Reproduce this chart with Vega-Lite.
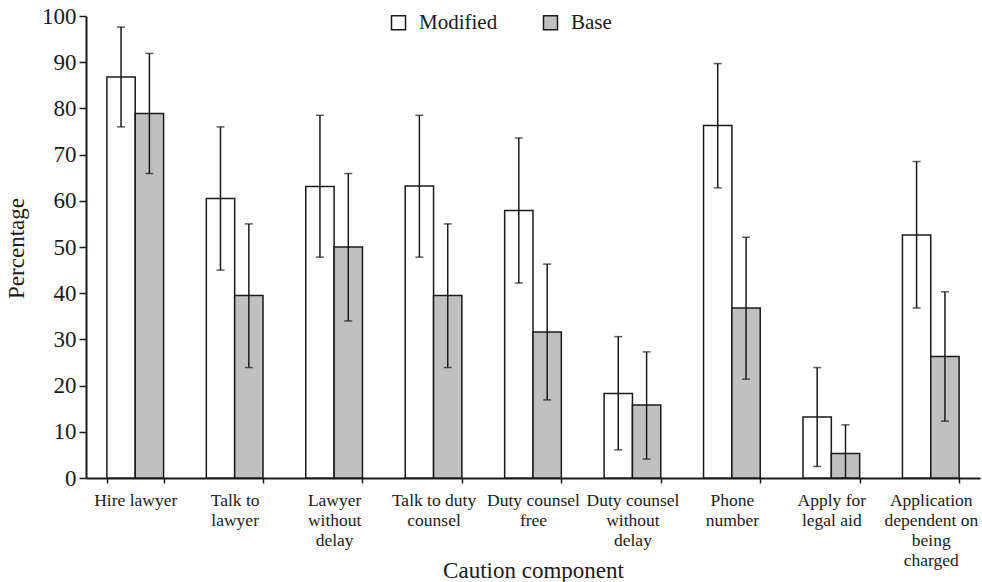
{
  "$schema": "https://vega.github.io/schema/vega-lite/v6.json",
  "width": 894,
  "height": 462,
  "autosize": {"type": "none"},
  "padding": {"left": 86, "top": 16, "right": 2, "bottom": 104},
  "background": "white",
  "config": {
    "view": {"stroke": null},
    "font": "Liberation Serif",
    "axis": {"domainColor": "#1a1a1a", "tickColor": "#1a1a1a", "labelColor": "#1a1a1a", "titleColor": "#1a1a1a", "grid": false, "labelFont": "Liberation Serif", "titleFont": "Liberation Serif", "titleFontWeight": "normal"},
    "legend": {"labelFont": "Liberation Serif", "labelColor": "#1a1a1a"}
  },
  "data": {
    "values": [
      {"component": "Hire lawyer", "series": "Modified", "value": 86.8, "lo": 76.0, "hi": 97.6},
      {"component": "Hire lawyer", "series": "Base", "value": 78.9, "lo": 65.9, "hi": 91.9},
      {"component": "Talk to lawyer", "series": "Modified", "value": 60.5, "lo": 45.0, "hi": 76.0},
      {"component": "Talk to lawyer", "series": "Base", "value": 39.5, "lo": 23.9, "hi": 55.0},
      {"component": "Lawyer without delay", "series": "Modified", "value": 63.1, "lo": 47.8, "hi": 78.5},
      {"component": "Lawyer without delay", "series": "Base", "value": 50.0, "lo": 34.0, "hi": 65.9},
      {"component": "Talk to duty counsel", "series": "Modified", "value": 63.2, "lo": 47.8, "hi": 78.5},
      {"component": "Talk to duty counsel", "series": "Base", "value": 39.5, "lo": 23.9, "hi": 55.0},
      {"component": "Duty counsel free", "series": "Modified", "value": 57.9, "lo": 42.2, "hi": 73.6},
      {"component": "Duty counsel free", "series": "Base", "value": 31.6, "lo": 16.9, "hi": 46.3},
      {"component": "Duty counsel without delay", "series": "Modified", "value": 18.3, "lo": 6.1, "hi": 30.6},
      {"component": "Duty counsel without delay", "series": "Base", "value": 15.8, "lo": 4.1, "hi": 27.3},
      {"component": "Phone number", "series": "Modified", "value": 76.3, "lo": 62.8, "hi": 89.7},
      {"component": "Phone number", "series": "Base", "value": 36.8, "lo": 21.4, "hi": 52.1},
      {"component": "Apply for legal aid", "series": "Modified", "value": 13.2, "lo": 2.5, "hi": 23.9},
      {"component": "Apply for legal aid", "series": "Base", "value": 5.3, "lo": 0, "hi": 11.5},
      {"component": "Application dependent on being charged", "series": "Modified", "value": 52.6, "lo": 36.8, "hi": 68.5},
      {"component": "Application dependent on being charged", "series": "Base", "value": 26.3, "lo": 12.3, "hi": 40.3}
    ]
  },
  "encoding": {
    "x": {
      "field": "component",
      "type": "nominal",
      "sort": null,
      "scale": {"paddingInner": 0.43, "paddingOuter": 0.21},
      "axis": {
        "title": "Caution component",
        "titleFontSize": 23,
        "titleY": 92,
        "titleBaseline": "middle",
        "labelAngle": 0,
        "labelFontSize": 17.5,
        "labelLineHeight": 20,
        "labelPadding": 8,
        "labelBaseline": "top",
        "tickBand": "extent",
        "tickSize": 5,
        "tickWidth": 1.5,
        "domainWidth": 2,
        "labelExpr": "{'Hire lawyer': 'Hire lawyer', 'Talk to lawyer': ['Talk to', 'lawyer'], 'Lawyer without delay': ['Lawyer', 'without', 'delay'], 'Talk to duty counsel': ['Talk to duty', 'counsel'], 'Duty counsel free': ['Duty counsel', 'free'], 'Duty counsel without delay': ['Duty counsel', 'without', 'delay'], 'Phone number': ['Phone', 'number'], 'Apply for legal aid': ['Apply for', 'legal aid'], 'Application dependent on being charged': ['Application', 'dependent on', 'being', 'charged']}[datum.label]"
      }
    },
    "xOffset": {"field": "series", "type": "nominal", "sort": ["Modified", "Base"], "scale": {"paddingInner": 0, "paddingOuter": 0}}
  },
  "layer": [
    {
      "mark": {"type": "bar", "stroke": "#1a1a1a", "strokeWidth": 1.5},
      "encoding": {
        "y": {
          "field": "value",
          "type": "quantitative",
          "scale": {"domain": [0, 100], "nice": false},
          "axis": {
            "title": "Percentage",
            "titleFontSize": 23,
            "titleX": -70,
            "titleY": 232,
            "titleAngle": -90,
            "titleBaseline": "middle",
            "titleAlign": "center",
            "values": [0, 10, 20, 30, 40, 50, 60, 70, 80, 90, 100],
            "labelFontSize": 23,
            "labelPadding": 3,
            "tickSize": 7,
            "tickWidth": 1.5,
            "domainWidth": 2
          }
        },
        "fill": {
          "field": "series",
          "type": "nominal",
          "sort": ["Modified", "Base"],
          "scale": {"domain": ["Modified", "Base"], "range": ["#ffffff", "#c0c0c0"]},
          "legend": {
            "title": null,
            "orient": "none",
            "direction": "horizontal",
            "legendX": 302,
            "legendY": -4,
            "symbolType": "square",
            "symbolSize": 196,
            "symbolStrokeColor": "#1a1a1a",
            "symbolStrokeWidth": 1.5,
            "labelFontSize": 21,
            "labelOffset": 10,
            "columnPadding": 42
          }
        }
      }
    },
    {
      "mark": {"type": "rule", "color": "#1a1a1a", "strokeWidth": 1.5},
      "encoding": {
        "y": {"field": "lo", "type": "quantitative"},
        "y2": {"field": "hi"}
      }
    },
    {
      "mark": {"type": "tick", "color": "#1a1a1a", "size": 8, "thickness": 1.5, "orient": "horizontal"},
      "encoding": {"y": {"field": "lo", "type": "quantitative"}}
    },
    {
      "mark": {"type": "tick", "color": "#1a1a1a", "size": 8, "thickness": 1.5, "orient": "horizontal"},
      "encoding": {"y": {"field": "hi", "type": "quantitative"}}
    }
  ]
}
